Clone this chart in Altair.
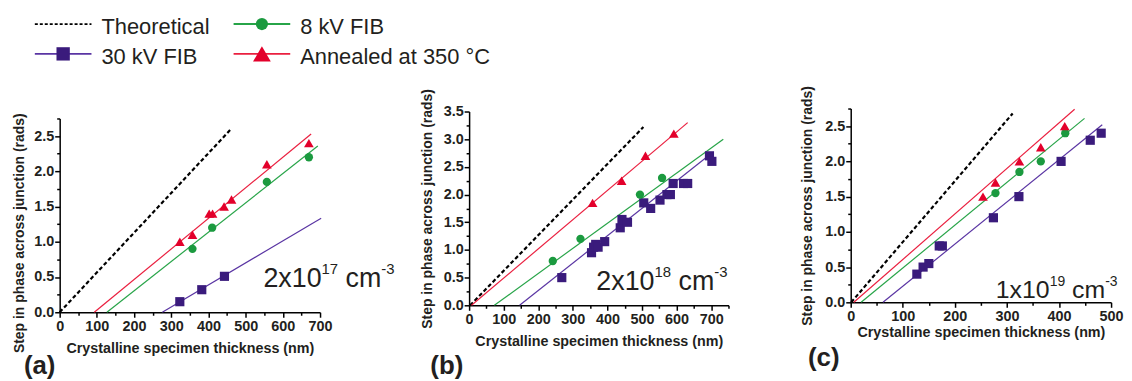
import altair as alt
import pandas as pd

# ---------------- data ----------------
SERIES = ["Theoretical", "30 kV FIB", "8 kV FIB", "Annealed at 350 °C"]
LINE_COLORS = ["#000000", "#5a35a3", "#27a448", "#ea1f3f"]
POINT_COLORS = ["#000000", "#3a1b7c", "#1b9a3f", "#e3002b"]
POINT_SHAPES = ["", "square", "circle", "triangle-up"]

# Panel (a)  2x10^17 cm^-3
a_fib30_x = [323, 382, 443]
a_fib30_y = [0.15, 0.32, 0.51]
a_fib8_x = [357, 410, 557, 670]
a_fib8_y = [0.90, 1.20, 1.85, 2.20]
a_ann_x = [323, 357, 402, 411, 442, 462, 557, 670]
a_ann_y = [1.00, 1.10, 1.40, 1.40, 1.50, 1.60, 2.10, 2.40]
a_theory_x = [0, 459]
a_theory_y = [0, 2.59]
a_fit30_x = [276, 703]
a_fit30_y = [0, 1.335]
a_fit8_x = [127, 694]
a_fit8_y = [0, 2.36]
a_fitann_x = [93, 676]
a_fitann_y = [0, 2.53]

# Panel (b)  2x10^18 cm^-3
b_fib30_x = [268, 354, 360, 366, 373, 392, 437, 442, 458, 505, 525, 552, 572, 582, 590, 620, 632, 695, 702]
b_fib30_y = [0.50, 0.95, 1.05, 1.10, 1.05, 1.15, 1.40, 1.55, 1.50, 1.85, 1.75, 1.90, 2.00, 2.00, 2.20, 2.20, 2.20, 2.70, 2.60]
b_fib8_x = [242, 322, 494, 558]
b_fib8_y = [0.80, 1.20, 2.00, 2.30]
b_ann_x = [357, 441, 510, 592]
b_ann_y = [1.85, 2.25, 2.70, 3.10]
b_theory_x = [3, 504]
b_theory_y = [0, 3.22]
b_fit30_x = [146, 702]
b_fit30_y = [0, 2.75]
b_fit8_x = [73, 735]
b_fit8_y = [0, 3.00]
b_fitann_x = [7, 632]
b_fitann_y = [0, 3.30]

# Panel (c)  1x10^19 cm^-3
c_fib30_x = [127, 139, 150, 170, 176, 274, 323, 404, 460, 481]
c_fib30_y = [0.40, 0.50, 0.55, 0.80, 0.80, 1.20, 1.50, 2.00, 2.30, 2.40]
c_fib8_x = [278, 324, 365, 412]
c_fib8_y = [1.55, 1.85, 2.00, 2.40]
c_ann_x = [254, 278, 324, 365, 411]
c_ann_y = [1.50, 1.70, 2.00, 2.20, 2.50]
c_theory_x = [1, 311]
c_theory_y = [0, 2.68]
c_fit30_x = [62, 483]
c_fit30_y = [0, 2.52]
c_fit8_x = [20, 449]
c_fit8_y = [0, 2.61]
c_fitann_x = [6, 430]
c_fitann_y = [0, 2.74]

# ---------------- styling ----------------
FONT = "Liberation Sans"
TXT = "#231f20"
ONE = pd.DataFrame({"k": [0]})
CHAR_W = {"0": .556, "1": .556, "2": .556, "3": .556, "7": .556, "8": .556, "9": .556,
          "x": .5, "c": .5, "m": .833, "-": .333, " ": .278}


def tw(s, fs):
    return sum(CHAR_W[ch] for ch in s) * fs


def axis_x(vals, major, tpad):
    test = f"datum.value % {major} === 0"
    return alt.Axis(title="Crystalline specimen thickness (nm)", values=vals, format="d",
                    labelExpr=f"({test}) ? datum.label : ''",
                    tickSize={"condition": {"test": test, "value": 5}, "value": 3},
                    labelFlush=False, labelOverlap=False, grid=False,
                    domainColor="#000", domainWidth=1.5, tickColor="#000", tickWidth=1.5,
                    labelFont=FONT, labelFontWeight="bold", labelFontSize=14.5, labelColor=TXT,
                    labelPadding=2, titleFont=FONT, titleFontWeight="bold", titleFontSize=14.4,
                    titleColor=TXT, titlePadding=tpad)


def axis_y(vals, tpad, title_y=None):
    test = "abs(datum.value * 2 - round(datum.value * 2)) < 0.000001"
    kw = {}
    if title_y is not None:
        kw["titleY"] = title_y
    return alt.Axis(title="Step in phase across junction (rads)", values=vals, format=".1f",
                    labelExpr=f"({test}) ? datum.label : ''",
                    tickSize={"condition": {"test": test, "value": 5}, "value": 3},
                    labelFlush=False, labelOverlap=False, grid=False,
                    domainColor="#000", domainWidth=1.5, tickColor="#000", tickWidth=1.5,
                    labelFont=FONT, labelFontWeight="bold", labelFontSize=14.5, labelColor=TXT,
                    labelPadding=1, titleFont=FONT, titleFontWeight="bold", titleFontSize=14,
                    titleColor=TXT, titlePadding=tpad, **kw)


def text_layer(text, x, y, fs, bold=False, align="left"):
    return alt.Chart(ONE).mark_text(text=text, align=align, baseline="alphabetic", font=FONT,
                                    fontSize=fs, fontWeight="bold" if bold else "normal",
                                    color=TXT).encode(x=alt.value(x), y=alt.value(y))


def conc_layers(base, exp, x0, y0, fs, fs_sup, rise):
    out = [text_layer(base, x0, y0, fs)]
    x1 = x0 + tw(base, fs)
    out.append(text_layer(exp, x1, y0 - rise, fs_sup))
    x2 = x1 + tw(exp, fs_sup) + tw(" ", fs)
    out.append(text_layer("cm", x2, y0, fs))
    x3 = x2 + tw("cm", fs)
    out.append(text_layer("-3", x3, y0 - rise, fs_sup))
    return out


def panel(pts, fits, xmax, ymax, plot_w, view_w, plot_h, top_off, xvals, xmajor, yvals, ytpad, xtpad,
          label, label_xy, conc, ytitle_y=None, extra=None):
    view_h = plot_h + top_off
    X = alt.X("thick:Q", scale=alt.Scale(domain=[0, xmax], range=[0, plot_w], nice=False, zero=True),
              axis=axis_x(xvals, xmajor, xtpad))
    Y = alt.Y("phase:Q", scale=alt.Scale(domain=[0, ymax], range=[view_h, top_off], nice=False, zero=True),
              axis=axis_y(yvals, ytpad, ytitle_y))
    layers = []
    for i, (fx, fy) in enumerate(fits):
        df = pd.DataFrame({"thick": fx, "phase": fy})
        if i == 0:
            m = alt.Chart(df).mark_line(color=LINE_COLORS[0], strokeWidth=2.2, strokeDash=[4, 2.5])
        else:
            m = alt.Chart(df).mark_line(color=LINE_COLORS[i], strokeWidth=1.2)
        layers.append(m.encode(x=X, y=Y))
    sizes = [0, 85, 70, 95]
    for i, (px, py) in enumerate(pts, start=1):
        df = pd.DataFrame({"thick": px, "phase": py})
        layers.append(alt.Chart(df).mark_point(shape=POINT_SHAPES[i], size=sizes[i], filled=True,
                                               opacity=1, color=POINT_COLORS[i]).encode(x=X, y=Y))
    layers += conc_layers(*conc)
    layers.append(text_layer(label, label_xy[0], label_xy[1], 26, bold=True))
    if extra:
        layers += extra
    return alt.layer(*layers).properties(width=view_w, height=view_h)


# ---------------- legend (drawn in panel (a)'s frame, above it) ----------------
legend_layers = []
leg_pos = {"Theoretical": (0, 0), "8 kV FIB": (1, 0), "30 kV FIB": (0, 1), "Annealed at 350 °C": (1, 1)}
leg_sizes = [0, 180, 150, 320]
for i, name in enumerate(SERIES):
    col, row = leg_pos[name]
    x0 = -25 + 200 * col
    yc = -85 + 30 * row
    if i == 0:
        rule = alt.Chart(ONE).mark_rule(color="#000", strokeWidth=1.8, strokeDash=[3, 2])
    else:
        rule = alt.Chart(ONE).mark_rule(color=LINE_COLORS[i], strokeWidth=2)
    legend_layers.append(rule.encode(x=alt.value(x0), x2=alt.value(x0 + 57), y=alt.value(yc)))
    if i > 0:
        legend_layers.append(alt.Chart(ONE).mark_point(shape=POINT_SHAPES[i], size=leg_sizes[i],
                                                       filled=True, opacity=1, color=POINT_COLORS[i])
                             .encode(x=alt.value(x0 + 28.5), y=alt.value(yc)))
    legend_layers.append(text_layer(name, x0 + 67, yc + 10, 22))


def steps(stop, step):
    n = int(round(stop / step))
    return [round(k * step, 4) for k in range(n + 1)]


pa = panel([(a_fib30_x, a_fib30_y), (a_fib8_x, a_fib8_y), (a_ann_x, a_ann_y)],
           [(a_theory_x, a_theory_y), (a_fit30_x, a_fit30_y), (a_fit8_x, a_fit8_y), (a_fitann_x, a_fitann_y)],
           700, 2.75, 262, 289, 195, 10, steps(700, 50), 100, steps(2.75, 0.25), 7, 9, "(a)", (-36, 267),
           ("2x10", "17", 205, 180, 27, 15, 13), ytitle_y=125, extra=legend_layers)

pb = panel([(b_fib30_x, b_fib30_y), (b_fib8_x, b_fib8_y), (b_ann_x, b_ann_y)],
           [(b_theory_x, b_theory_y), (b_fit30_x, b_fit30_y), (b_fit8_x, b_fit8_y), (b_fitann_x, b_fitann_y)],
           750, 3.5, 261, 261, 195, 3, steps(750, 50), 100, steps(3.5, 0.25), 9, 9, "(b)", (-39, 267),
           ("2x10", "18", 128, 183, 27, 15, 13))

pc = panel([(c_fib30_x, c_fib30_y), (c_fib8_x, c_fib8_y), (c_ann_x, c_ann_y)],
           [(c_theory_x, c_theory_y), (c_fit30_x, c_fit30_y), (c_fit8_x, c_fit8_y), (c_fitann_x, c_fitann_y)],
           500, 2.75, 262, 262, 195, 0, steps(500, 50), 100, steps(2.75, 0.25), 10, 3, "(c)", (-43, 259),
           ("1x10", "19", 146, 191, 25, 14, 12))

chart = alt.hconcat(pa, pb, pc, spacing=123, bounds="flush").properties(
    padding={"left": 4, "top": 7, "right": 0, "bottom": 0},
    background="white",
).configure_view(stroke=None)

chart.save("out.html", embed_options={"renderer": "svg", "actions": False})
